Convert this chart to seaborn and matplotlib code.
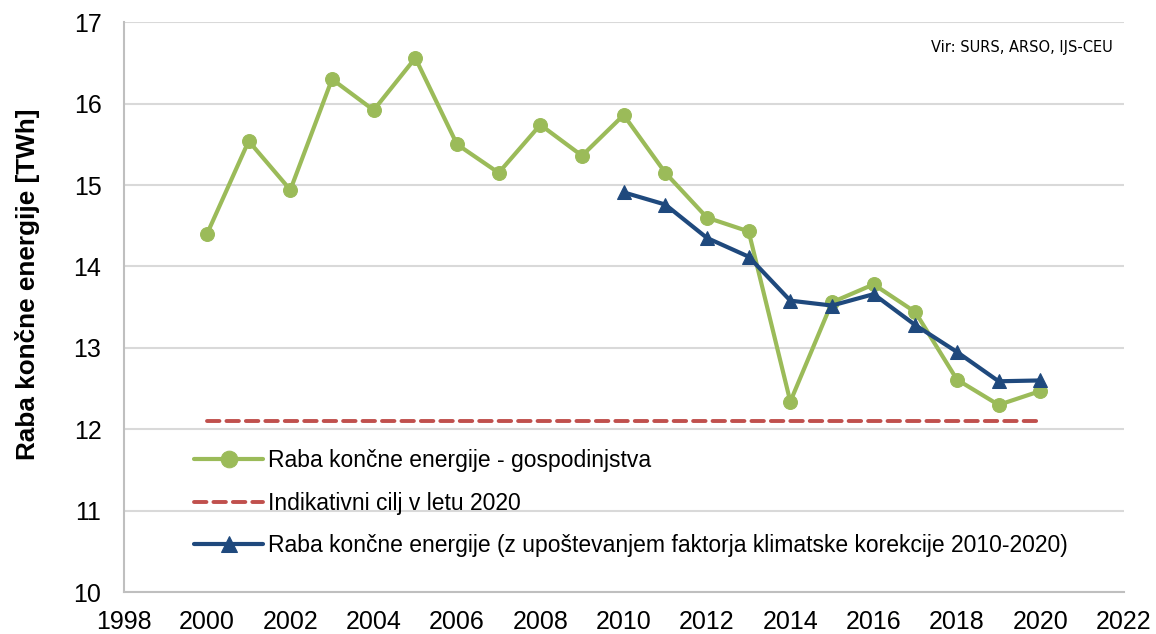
import numpy as np
import pandas as pd
import matplotlib
matplotlib.use("Agg")
import matplotlib.pyplot as plt
import seaborn as sns

# data
years = list(range(2000, 2021))
raba = [14.40, 15.54, 14.94, 16.30, 15.92, 16.56, 15.50, 15.15, 15.74, 15.36, 15.86,
        15.15, 14.60, 14.43, 12.34, 13.56, 13.78, 13.44, 12.61, 12.30, 12.47]
years_kor = list(range(2010, 2021))
raba_kor = [14.91, 14.76, 14.35, 14.12, 13.58, 13.52, 13.66, 13.28, 12.95, 12.59, 12.60]
cilj_years = [2000, 2020]
cilj = [12.1, 12.1]

labels = ["Raba končne energije - gospodinjstva",
          "Indikativni cilj v letu 2020",
          "Raba končne energije (z upoštevanjem faktorja klimatske korekcije 2010-2020)"]

GREEN = "#9bbb59"
RED = "#c0504d"
BLUE = "#1f497d"

sns.set_style("white")
plt.rcParams["font.family"] = ["Liberation Sans", "DejaVu Sans"]
plt.rcParams["text.color"] = "black"
plt.rcParams["xtick.labelcolor"] = "black"
plt.rcParams["ytick.labelcolor"] = "black"
plt.rcParams["axes.labelcolor"] = "black"

fig = plt.figure(figsize=(11.56, 6.34), dpi=100)
ax = fig.add_axes([0.107, 0.066, 0.865, 0.899])

df_g = pd.DataFrame({"leto": years, "raba": raba})
df_b = pd.DataFrame({"leto": years_kor, "raba": raba_kor})
df_r = pd.DataFrame({"leto": cilj_years, "raba": cilj})

sns.lineplot(data=df_g, x="leto", y="raba", ax=ax, color=GREEN, lw=3,
             marker="o", markersize=10, markeredgecolor=GREEN, label=labels[0])
sns.lineplot(data=df_r, x="leto", y="raba", ax=ax, color=RED, lw=2.8,
             linestyle="--", label=labels[1])
sns.lineplot(data=df_b, x="leto", y="raba", ax=ax, color=BLUE, lw=3,
             marker="^", markersize=10, markeredgecolor=BLUE, label=labels[2])
ax.lines[1].set_dashes((3.2, 1.8))
ax.lines[1].set_dash_capstyle("round")

ax.set_xlim(1998, 2022)
ax.set_ylim(10, 17)
ax.set_xticks(range(1998, 2023, 2))
ax.set_yticks(range(10, 18))
ax.tick_params(axis="x", direction="in", length=7, color="#bfbfbf", labelsize=18, pad=13)
ax.tick_params(axis="y", length=0, labelsize=18, pad=16)
ax.yaxis.grid(True, color="#d9d9d9", lw=1.5)
ax.set_axisbelow(True)
for s in ["top", "right"]:
    ax.spines[s].set_visible(False)
for s in ["left", "bottom"]:
    ax.spines[s].set_color("#bfbfbf")
    ax.spines[s].set_linewidth(1.5)

ax.set_xlabel("")
ax.set_ylabel("Raba končne energije [TWh]", fontsize=18.8, fontweight="bold")
ax.yaxis.set_label_coords(-0.084, 0.541)

ax.text(0.989, 0.955, "Vir: SURS, ARSO, IJS-CEU", transform=ax.transAxes,
        ha="right", va="center", fontsize=10.5, family=["DejaVu Sans"])

leg = ax.legend(loc="lower left", bbox_to_anchor=(0.05, 0.025), frameon=False,
                fontsize=16.5, handlelength=3.0, handletextpad=0.2, labelspacing=0.85,
                markerscale=1.2)

fig.savefig("out.png", dpi=100)
